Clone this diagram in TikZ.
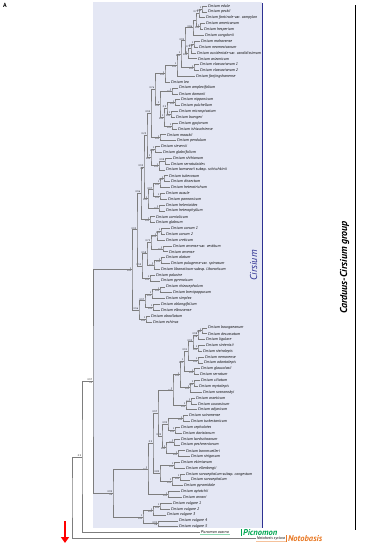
\documentclass[tikz,border=0pt]{standalone}
\usepackage{fontspec}
\setmainfont{PT Sans}
\usetikzlibrary{calc,arrows.meta}
\definecolor{branchGray}{RGB}{125,125,125}
\definecolor{cladeShade}{RGB}{228,231,244}
\definecolor{cirsiumBlue}{RGB}{46,49,146}
\definecolor{picnomonGreen}{RGB}{0,166,81}
\definecolor{notobasisOrange}{RGB}{232,119,34}

% clade: name, x, child 1, child 2, posterior, bootstrap
\newcommand{\clade}[6]{%
  \path ($(#3)!0.5!(#4)$) coordinate (m#1);
  \coordinate (#1) at (#2,0 |- m#1);
  \draw[branch] (#3) -| (#1) |- (#4);
  \node[postlab] at (#1) {#5};
  \node[bootlab] at (#1) {#6};
}

\begin{document}
\begin{tikzpicture}[
    x=1pt, y=-1pt,
    branch/.style={draw=branchGray, line width=0.5pt},
    taxon/.style={anchor=west, inner sep=0.6pt, font=\fontsize{4}{4.5}\selectfont\itshape},
    postlab/.style={anchor=south east, inner sep=0.2pt, xshift=-0.5pt, font=\fontsize{2.4}{2.6}\selectfont},
    bootlab/.style={anchor=north east, inner sep=0.2pt, xshift=-0.5pt, font=\fontsize{2.4}{2.6}\selectfont},
    genus/.style={anchor=west, inner sep=0.5pt, font=\fontsize{8.5}{9}\selectfont\bfseries\itshape}
]
\useasboundingbox (0,0) rectangle (379,550);

% Cirsium background
\fill[cladeShade] (93,2) rectangle (262,528);

\node[anchor=north west, inner sep=0pt, font=\fontsize{6}{7}\selectfont\bfseries] (panel) at (3,3) {A};

% Taxa
\foreach \tx/\tname [count=\i] in {
  207/{Cirsium edule}, 207/{Cirsium peckii}, 205/{Cirsium fontinale \textup{var.} campylon},
  205/{Cirsium americanum}, 203/{Cirsium hesperium}, 204/{Cirsium congdonii},
  200/{Cirsium mohavense}, 198/{Cirsium neomexicanum}, 196/{Cirsium occidentale \textup{var.} candidissimum},
  197/{Cirsium arizonicum}, 199/{Cirsium vlassovianum 1}, 199/{Cirsium vlassovianum 2},
  195/{Cirsium fanjingshanense}, 170/{Cirsium leo}, 178/{Cirsium amplexifolium},
  178/{Cirsium domonii}, 180/{Cirsium nipponicum}, 180/{Cirsium pulchellum},
  178/{Cirsium microspicatum}, 175/{Cirsium buergeri}, 178/{Cirsium gyojanum},
  177/{Cirsium ishizuchiense}, 166/{Cirsium maackii}, 176/{Cirsium pendulum},
  160/{Cirsium sieversii}, 162/{Cirsium glabrifolium}, 172/{Cirsium shihianum},
  170/{Cirsium serratuloides}, 165/{Cirsium komarovii \textup{subsp.} schischkinii}, 168/{Cirsium tuberosum},
  170/{Cirsium dissectum}, 170/{Cirsium heterotrichum}, 165/{Cirsium acaule},
  167/{Cirsium pannonicum}, 165/{Cirsium helenioides}, 165/{Cirsium heterophyllum},
  155/{Cirsium carniolicum}, 155/{Cirsium glabrum}, 170/{Cirsium canum 1},
  165/{Cirsium canum 2}, 165/{Cirsium creticum}, 172/{Cirsium arvense \textup{var.} vestitum},
  168/{Cirsium arvense}, 165/{Cirsium alatum}, 170/{Cirsium pulugense \textup{var.} spinosum},
  160/{Cirsium libanoticum \textup{subsp.} libanoticum}, 155/{Cirsium palustre}, 160/{Cirsium pyrenaicum},
  165/{Cirsium rhizocephalum}, 172/{Cirsium brevipappusum}, 165/{Cirsium simplex},
  160/{Cirsium oblongifolium}, 160/{Cirsium elbrusense}, 150/{Cirsium obvallatum},
  152/{Cirsium echinus}, 207/{Cirsium bourgaeanum}, 207/{Cirsium decussatum},
  205/{Cirsium ligulare}, 205/{Cirsium sintenisii}, 202/{Cirsium steirolepis},
  204/{Cirsium nemorense}, 203/{Cirsium odontolepis}, 200/{Cirsium glaucolasii},
  199/{Cirsium serratum}, 200/{Cirsium ciliatum}, 198/{Cirsium myrtolepis},
  202/{Cirsium sosnowskyi}, 195/{Cirsium osseticum}, 197/{Cirsium caucasicum},
  197/{Cirsium adjaricum}, 188/{Cirsium sairamense}, 190/{Cirsium turkestanicum},
  180/{Cirsium cephalotes}, 182/{Cirsium davisianum}, 180/{Cirsium kardschoanum},
  180/{Cirsium peshmenianum}, 185/{Cirsium bornmuelleri}, 190/{Cirsium strigosum},
  180/{Cirsium ekimianum}, 185/{Cirsium ellenbergii}, 185/{Cirsium sorocephalum \textup{subsp.} congestum},
  190/{Cirsium sorocephalum}, 183/{Cirsium pyramidale}, 180/{Cirsium aytatchii},
  182/{Cirsium arnani}, 172/{Cirsium vulgare 1}, 170/{Cirsium vulgare 2},
  166/{Cirsium vulgare 3}, 178/{Cirsium vulgare 4}, 178/{Cirsium vulgare 5},
  200/{Picnomon acarna}, 256/{Notobasis syriaca}}{
  \coordinate (t\i) at (\tx, {6+5.85*(\i-1)});
  \node[taxon] (l\i) at (t\i) {\tname};
}

% American and Asian clades
\clade{n1}{202}{t1}{t2}{1}{100}
\clade{n2}{199}{n1}{t3}{0.75}{}
\clade{n3}{200}{t4}{t5}{1}{100}
\clade{n4}{196}{n2}{n3}{}{}
\clade{n5}{193}{n4}{t6}{0.86}{}
\clade{n6}{194}{t7}{t8}{1}{100}
\clade{n7}{191}{n6}{t9}{0.75}{}
\clade{n8}{188}{n7}{t10}{1}{100}
\clade{n9}{185}{n5}{n8}{0.99}{}
\clade{n10}{194}{t11}{t12}{1}{100}
\clade{n11}{181}{n9}{n10}{1}{100}
\clade{n12}{177}{n11}{t13}{1}{100}
\clade{n13}{165}{n12}{t14}{1}{100}
\clade{b1}{172}{t15}{t16}{1}{100}
\clade{b2}{175}{t17}{t18}{1}{100}
\clade{b3}{171}{t19}{t20}{1}{100}
\clade{b4}{167}{b2}{b3}{0.9}{}
\clade{b5}{172}{t21}{t22}{1}{100}
\clade{b6}{164}{b4}{b5}{1}{100}
\clade{b7}{160}{b1}{b6}{1}{100}
\clade{ab}{155}{n13}{b7}{0.76}{}
\clade{b8}{160}{t23}{t24}{1}{100}
\clade{ab8}{151}{ab}{b8}{0.94}{}
\clade{c1}{155}{t25}{t26}{1}{100}
\clade{c2}{165}{t27}{t28}{0.98}{}
\clade{c3}{159}{c2}{t29}{1}{100}
\clade{c4}{151}{c1}{c3}{1}{100}
\clade{abc}{147}{ab8}{c4}{0.23}{}
\clade{d1}{164}{t30}{t31}{1}{100}
\clade{d2}{160}{d1}{t32}{1}{100}
\clade{d3}{160}{t33}{t34}{1}{100}
\clade{d4}{153}{d2}{d3}{0.97}{}
\clade{d5}{159}{t35}{t36}{1}{100}
\clade{d6}{148}{d4}{d5}{1}{100}
\clade{abcd}{144}{abc}{d6}{0.95}{76}
\clade{g}{150}{t37}{t38}{1}{100}
\clade{abcdg}{141}{abcd}{g}{0.96}{}
% Eurasian clade
\clade{e1}{161}{t39}{t40}{1}{100}
\clade{e2}{157}{e1}{t41}{1}{100}
\clade{e3}{163}{t42}{t43}{1}{100}
\clade{e4}{151}{e2}{e3}{0.72}{}
\clade{e5}{161}{t44}{t45}{1}{100}
\clade{e6}{154}{e5}{t46}{1}{100}
\clade{e7}{147}{e4}{e6}{0.58}{}
\clade{e8}{150}{t47}{t48}{1}{100}
\clade{e9}{142}{e7}{e8}{0.59}{}
\clade{u}{137}{abcdg}{e9}{0.93}{}
\clade{f1}{160}{t49}{t50}{1}{100}
\clade{f2}{152}{f1}{t51}{1}{100}
\clade{f3}{153}{t52}{t53}{1}{100}
\clade{f4}{145}{f2}{f3}{0.97}{}
\clade{f5}{146}{t54}{t55}{1}{100}
\clade{f6}{139}{f4}{f5}{0.96}{}
\clade{g1}{132}{u}{f6}{1}{100}

% Mediterranean and Caucasian clades
\clade{k1}{202}{t56}{t57}{1}{100}
\clade{k2}{198}{k1}{t58}{0.98}{96}
\clade{k3}{198}{t59}{t60}{1}{100}
\clade{k4}{193}{k2}{k3}{0.93}{}
\clade{k5}{198}{t61}{t62}{1}{100}
\clade{k6}{188}{k4}{k5}{0.91}{}
\clade{k7}{194}{t63}{t64}{1}{100}
\clade{k8}{184}{k6}{k7}{1}{100}
\clade{k9}{194}{t65}{t66}{1}{100}
\clade{k10}{190}{k9}{t67}{1}{100}
\clade{k11}{180}{k8}{k10}{1}{100}
\clade{k12}{191}{t68}{t69}{1}{100}
\clade{k13}{186}{k12}{t70}{1}{100}
\clade{k14}{173}{k11}{k13}{1}{100}
\clade{k15}{183}{t71}{t72}{1}{100}
\clade{k16}{175}{t73}{t74}{1}{100}
\clade{k17}{168}{k15}{k16}{0.99}{}
\clade{k18}{174}{t75}{t76}{1}{100}
\clade{k19}{178}{t77}{t78}{1}{100}
\clade{k20}{166}{k18}{k19}{1}{100}
\clade{k21}{162}{k17}{k20}{0.99}{}
\clade{kk}{158}{k14}{k21}{0.97}{}
\clade{h1}{174}{t79}{t80}{1}{100}
\clade{h2}{180}{t81}{t82}{1}{100}
\clade{h3}{172}{h2}{t83}{1}{100}
\clade{h4}{160}{h1}{h3}{0.89}{}
\clade{h5}{153}{kk}{h4}{0.9}{}
\clade{h6}{168}{t84}{t85}{1}{100}
\clade{h7}{148}{h5}{h6}{1}{100}
\clade{v1}{160}{t86}{t87}{1}{100}
\clade{v2}{153}{v1}{t88}{1}{100}
\clade{v3}{158}{t89}{t90}{0.99}{98}
\clade{vv}{143}{v2}{v3}{1}{100}
\clade{g2}{113}{h7}{vv}{0.99}{94}

% Cirsium, Picnomon and root
\clade{cir}{93}{g1}{g2}{0.97}{92}
\clade{cp}{82}{cir}{t91}{0.9}{}
\clade{root}{72}{cp}{t92}{}{}

% outgroup marks
\draw[picnomonGreen!45, line width=0.6pt] (l91.south west) -- (l91.south east);
\draw[notobasisOrange!45, line width=0.6pt] (l92.south west) -- (l92.south east);
\node[genus, text=picnomonGreen] (picno) at (240,0 |- t91) {\textcolor{picnomonGreen}{\rule{1pt}{6.5pt}}\,Picnomon};
\node[genus, text=notobasisOrange] (notob) at (285,0 |- t92) {\textcolor{notobasisOrange}{\rule{1pt}{6.5pt}}\,Notobasis};

% Cirsium bar
\coordinate (cirTop) at (262,3);
\coordinate (cirBot) at (262,528);
\draw[cirsiumBlue, line width=0.8pt] (cirTop) -- (cirBot)
    node[midway, rotate=90, anchor=south, yshift=1pt, font=\fontsize{10}{12}\selectfont\itshape, text=cirsiumBlue] (cirlab) {Cirsium};

% Carduus-Cirsium bar
\coordinate (grpTop) at (355,5);
\coordinate (grpBot) at (355,530);
\draw[black, line width=1pt] (grpTop) -- (grpBot)
    node[midway, rotate=90, anchor=south, yshift=2pt, font=\fontsize{10}{12}\selectfont\bfseries\itshape] (grplab) {Carduus-Cirsium group};

% root arrow
\coordinate (arrTop) at (65,521);
\coordinate (arrBot) at (65,543);
\draw[red, line width=2.3pt, -{Triangle[length=6pt,width=8pt]}] (arrTop) -- (arrBot);

\end{tikzpicture}
\end{document}
